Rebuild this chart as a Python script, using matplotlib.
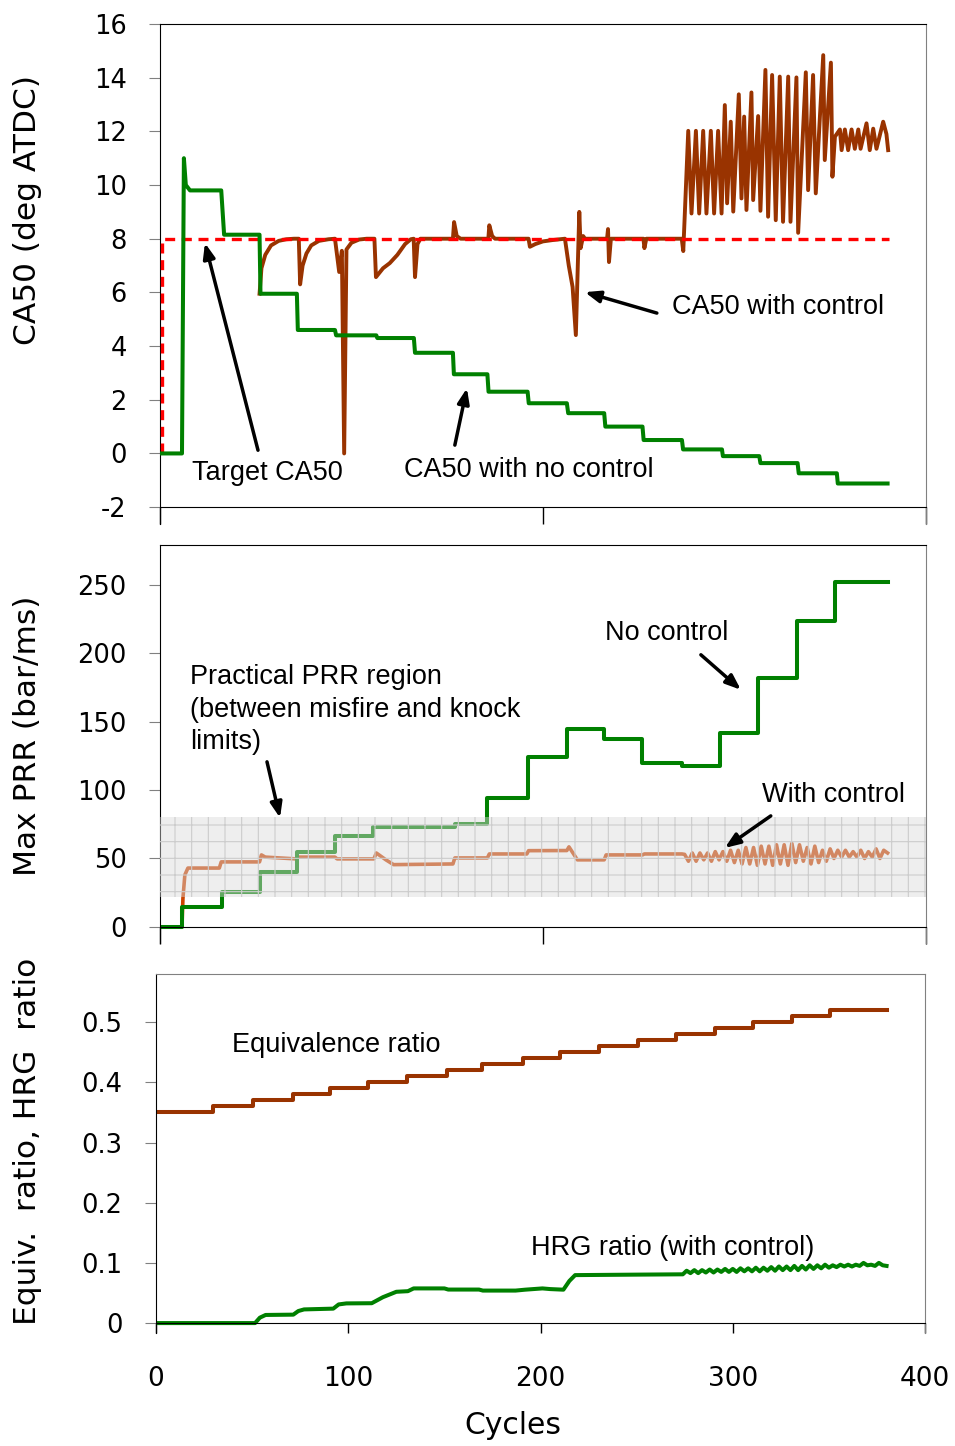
import matplotlib
matplotlib.use('Agg')
import matplotlib.pyplot as plt
import numpy as np

plt.rcParams['axes.unicode_minus'] = False
plt.rcParams['hatch.linewidth'] = 0.8

green = '#008000'
brown = '#993300'
ann_font = 'Liberation Sans'

# ---- panel 1 : CA50 ----
target_x = [1, 1, 381]
target_y = [0, 8, 8]

# no control: line vertices
nc_ca50_x = [0, 11.5, 12.5, 13.5, 15.7, 32, 33.5, 52, 52.5, 71.5, 72, 91.4, 92, 113, 113.5,
             132.6, 133.2, 153, 153.5, 171, 171.6, 192, 192.6, 212.5, 213.2, 232, 232.6, 252,
             252.6, 272.6, 273.2, 293.5, 294, 313, 313.6, 333, 333.6, 353.5, 354, 380]
nc_ca50_y = [0, 0, 11.0, 10.0, 9.8, 9.8, 8.15, 8.15, 5.95, 5.95, 4.6, 4.6, 4.4, 4.4, 4.3,
             4.3, 3.75, 3.75, 2.95, 2.95, 2.3, 2.3, 1.87, 1.87, 1.5, 1.5, 1.0, 1.0,
             0.5, 0.5, 0.15, 0.15, -0.1, -0.1, -0.36, -0.36, -0.74, -0.74, -1.12, -1.12]

# with control (before oscillation)
c_ca50_x = [52, 52.5, 53, 55, 58, 62, 66, 70, 72.5, 73.2, 74.5, 76.5, 79, 83, 88, 91.4,
            93.6, 95, 96.2, 97.4, 100, 104, 108, 112, 112.8, 116.5, 120, 124, 128, 131, 132.5,
            133.2, 134.5, 136, 153, 153.6, 155, 157, 171.5, 172, 173.5, 175, 192.5, 193.2,
            196, 200, 205, 211.5, 213.5, 215.5, 217.2, 219, 219.7, 221, 222, 233.5, 234, 234.5,
            235.5, 252.5, 253, 254, 272.5, 273.3]
c_ca50_y = [5.95, 6.4, 6.9, 7.4, 7.75, 7.92, 7.98, 8.0, 8.0, 6.3, 7.0, 7.45, 7.75, 7.92, 7.98, 8.0,
            6.76, 7.55, 0.0, 7.6, 7.85, 7.97, 8.0, 8.0, 6.57, 6.9, 7.09, 7.4, 7.8, 7.98, 8.0,
            6.57, 7.8, 8.0, 8.0, 8.62, 8.1, 8.0, 8.0, 8.5, 8.1, 8.0, 8.0, 7.7,
            7.8, 7.9, 7.95, 8.0, 7.0, 6.2, 4.41, 9.0, 7.65, 8.1, 8.0, 8.0, 8.36, 7.13,
            8.0, 8.0, 7.65, 8.0, 8.0, 7.54]
# oscillating part
osc_ca50_x = [275.9, 277.6, 279.9, 281.6, 283.7, 285.4, 287.7, 289.4, 291.5, 293.3, 295.0, 296.2,
              298.1, 299.4, 302.3, 303.7, 305.1, 306.3, 308.9, 309.8, 312.4, 313.6, 316.2, 317.6,
              319.7, 321.6, 323.7, 325.4, 328.1, 329.3, 332.4, 333.3, 337.3, 338.5, 341.1, 342.5,
              346.4, 347.2, 350.4, 351.2, 352.5, 355.1, 356.0, 357.7, 359.4, 361.2, 362.9, 364.7,
              365.9, 369.0, 370.7, 372.5, 374.2, 377.7, 379.4, 380.3]
osc_ca50_y = [12.02, 8.94, 12.02, 8.94, 12.02, 8.94, 12.02, 8.94, 12.02, 8.94, 12.98, 9.32,
              12.36, 9.01, 13.38, 9.50, 12.55, 9.07, 13.45, 9.44, 12.57, 9.04, 14.29, 8.82,
              14.1, 8.69, 14.04, 8.63, 14.04, 8.63, 14.01, 8.22, 14.2, 9.81, 14.1, 9.69,
              14.84, 10.93, 14.56, 10.31, 11.8, 12.07, 11.3, 12.07, 11.3, 12.07, 11.35, 12.07,
              11.35, 12.3, 11.3, 12.1, 11.35, 12.36, 11.9, 11.3]

# ---- panel 2 : Max PRR ----
nc_prr_x = [0, 11.5, 32.4, 52, 71.5, 91.4, 111, 154, 170.7, 192, 212.5, 232, 252, 272.6, 292.5,
            312.3, 332.6, 352.5, 380]
nc_prr_y = [0, 14.6, 25.6, 40.2, 54.8, 66.5, 73.1, 75.3, 94.3, 124.3, 144.7, 137.4, 120.0,
            117.7, 141.8, 182.0, 223.7, 252.2, 252.2]

c_prr_x = [0, 11.5, 12, 13, 14.6, 31, 32, 52, 53, 55, 71, 72, 91.4, 92.5, 111.7, 113, 118, 122,
           153, 154, 171, 172, 191.6, 192.5, 212.5, 213.6, 218, 232, 233, 252, 253, 272.6,
           274, 276, 278, 280, 282, 284, 286, 288, 290, 292, 294, 296, 298, 300, 302, 304,
           306, 308, 310, 312, 314, 316, 318, 320, 322, 324, 326, 328, 330, 332, 334, 336,
           338, 340, 342, 344, 346, 348, 350, 352, 354, 356, 358, 360, 362, 364, 366, 368,
           370, 372, 374, 376, 378, 380]
c_prr_y = [0, 0, 21, 38, 43, 43, 47.5, 47.5, 52.6, 51, 49.7, 51, 51, 49.7, 49.7, 54, 49, 45.5,
           46, 50.4, 50.4, 53.3, 53.3, 55.7, 55.8, 58.5, 49, 49, 52.6, 52.6, 53.3, 53.3,
           53, 48, 54, 48, 54, 49, 54, 48, 55, 49, 55, 48, 56, 47, 56, 46,
           58, 46, 58, 45, 59, 46, 59, 45, 60, 46, 60, 45, 61, 47, 60, 48,
           58, 46, 59, 47, 56, 48, 57, 50, 56, 51, 56, 51, 55, 51, 56, 50,
           55, 51, 57, 50, 56, 54]
band_lo, band_hi = 22, 80

# ---- panel 3 : equivalence ratio and HRG ratio ----
phi_x = [0, 29.8, 50.6, 71.1, 90.5, 110.5, 130.4, 151.1, 169.4, 190.7, 210, 230.6, 250.5,
         270.5, 290.5, 310.4, 330.7, 350.6, 380]
phi_y = [0.35, 0.361, 0.37, 0.381, 0.391, 0.401, 0.41, 0.42, 0.43, 0.44, 0.451, 0.461, 0.471,
         0.481, 0.4906, 0.5, 0.51, 0.521, 0.521]

hrg_x = [0, 51.5, 54, 57, 71.4, 74, 77, 92.2, 95, 99, 112.2, 118, 125, 131, 134, 150, 152, 168,
         170, 187, 192, 201, 205, 211.9, 215, 218, 230, 250, 272.6,
         274, 276, 278, 280, 282, 284, 286, 288, 290, 292, 294, 296, 298, 300, 302, 304,
         306, 308, 310, 312, 314, 316, 318, 320, 322, 324, 326, 328, 330, 332, 334, 336,
         338, 340, 342, 344, 346, 348, 350, 352, 354, 356, 358, 360, 362, 364, 366, 368,
         370, 372, 374, 376, 378, 380]
hrg_y = [0, 0, 0.009, 0.0135, 0.014, 0.02, 0.0227, 0.024, 0.031, 0.0327, 0.033, 0.043, 0.052,
         0.053, 0.0576, 0.0576, 0.0557, 0.0557, 0.054, 0.054, 0.0555, 0.0576, 0.0565, 0.0555,
         0.07, 0.0797, 0.08, 0.0805, 0.081,
         0.081, 0.087, 0.083, 0.088, 0.083, 0.088, 0.084, 0.089, 0.084, 0.089, 0.085, 0.09,
         0.085, 0.09, 0.085, 0.091, 0.086, 0.091, 0.086, 0.092, 0.086, 0.092, 0.087, 0.093,
         0.087, 0.094, 0.088, 0.094, 0.088, 0.095, 0.088, 0.095, 0.089, 0.096, 0.09, 0.096,
         0.091, 0.097, 0.092, 0.096, 0.093, 0.097, 0.094, 0.097, 0.094, 0.097, 0.095, 0.1,
         0.096, 0.097, 0.095, 0.1, 0.096, 0.095]

fig = plt.figure(figsize=(9.55, 14.46), dpi=100)
ax1 = fig.add_axes([0.1675, 0.6376, 0.802, 0.3458])
ax2 = fig.add_axes([0.1675, 0.3479, 0.802, 0.2752])
ax3 = fig.add_axes([0.1634, 0.0781, 0.8052, 0.2483])


def style(ax, base, xlen):
    ax.spines['bottom'].set_position(('data', base))
    ax.spines['right'].set_color('#808080')
    ax.set_xlim(0, 400)
    ax.tick_params(axis='y', direction='out', length=8, color='#808080', labelsize=18.5, pad=16)
    ax.tick_params(axis='x', direction='out', length=xlen, width=1, labelsize=19, pad=24)
    for t in ax.get_yticklabels() + ax.get_xticklabels():
        t.set_family('DejaVu Sans')


# panel 1
ax1.plot(target_x, target_y, color='#ff0000', lw=2.4, ls=(0, (3, 2)), zorder=3)
ax1.plot(c_ca50_x + osc_ca50_x, c_ca50_y + osc_ca50_y, color=brown, lw=2.8, zorder=2)
ax1.plot(nc_ca50_x, nc_ca50_y, color=green, lw=2.9, zorder=4)
ax1.set_ylim(-2.63, 16)
ax1.set_yticks(np.arange(-2, 17, 2))
ax1.set_xticks([0, 200, 400])
ax1.set_xticklabels([])
style(ax1, -2, 12)

arrow = dict(arrowstyle='-|>,head_length=0.9,head_width=0.35', color='k', lw=2.5,
             shrinkA=0, shrinkB=0)
fs = 19.5
ax1.annotate('', xy=(23.5, 7.84), xytext=(51.2, 0.12), arrowprops=arrow)
ax1.text(16.7, -0.73, 'Target CA50', fontsize=fs, family=ann_font, va='center')
ax1.annotate('', xy=(160.3, 2.43), xytext=(154, 0.31), arrowprops=arrow)
ax1.text(127.4, -0.62, 'CA50 with no control', fontsize=fs, family=ann_font, va='center')
ax1.annotate('', xy=(221.9, 6.01), xytext=(259.5, 5.23), arrowprops=arrow)
ax1.text(267.4, 5.45, 'CA50 with control', fontsize=fs, family=ann_font, va='center')

# panel 2
ax2.plot(c_prr_x, c_prr_y, color='#cc4400', lw=2.6, zorder=2)
ax2.plot(nc_prr_x, nc_prr_y, color=green, lw=2.9, drawstyle='steps-post', zorder=2.5)
ax2.axhspan(band_lo, band_hi, facecolor=(0.86, 0.86, 0.86, 0.45), edgecolor=(0.8, 0.8, 0.8),
            hatch='+', lw=0, zorder=3)
ax2.set_ylim(-11.7, 279)
ax2.set_yticks(np.arange(0, 251, 50))
ax2.set_xticks([0, 200, 400])
ax2.set_xticklabels([])
style(ax2, 0, 12)

ax2.text(15.7, 158.6, 'Practical PRR region\n(between misfire and knock\nlimits)', fontsize=fs,
         family=ann_font, va='center', linespacing=1.32)
ax2.annotate('', xy=(62.7, 79.7), xytext=(55.9, 120.6), arrowprops=arrow, zorder=5)
ax2.text(232.4, 214.9, 'No control', fontsize=fs, family=ann_font, va='center')
ax2.annotate('', xy=(303.4, 173.2), xytext=(282.5, 198.8), arrowprops=arrow)
ax2.text(314.4, 96.5, 'With control', fontsize=fs, family=ann_font, va='center')
ax2.annotate('', xy=(295, 57.7), xytext=(319, 81.1), arrowprops=arrow, zorder=5)

# panel 3
ax3.plot(phi_x, phi_y, color=brown, lw=2.9, drawstyle='steps-post')
ax3.plot(hrg_x, hrg_y, color=green, lw=2.9)
ax3.set_ylim(-0.0166, 0.58)
ax3.set_yticks([0, 0.1, 0.2, 0.3, 0.4, 0.5])
ax3.set_yticklabels(['0', '0.1', '0.2', '0.3', '0.4', '0.5'])
ax3.set_xticks([0, 100, 200, 300, 400])
ax3.spines['top'].set_color('#808080')
style(ax3, 0, 7)
ax3.text(39.5, 0.4618, 'Equivalence ratio', fontsize=fs, family=ann_font, va='center')
ax3.text(195, 0.1246, 'HRG ratio (with control)', fontsize=fs, family=ann_font, va='center')

# axis labels
fig.text(0.029, 0.8548, 'CA50 (deg ATDC)', rotation=90, fontsize=22.5, ha='center', va='center')
fig.text(0.029, 0.491, 'Max PRR (bar/ms)', rotation=90, fontsize=22.5, ha='center', va='center')
fig.text(0.029, 0.2109, 'Equiv.  ratio, HRG  ratio', rotation=90, fontsize=22.5,
         ha='center', va='center')
fig.text(0.537, 0.0145, 'Cycles', fontsize=21.5, ha='center', va='center')

fig.savefig('out.png', dpi=100)
